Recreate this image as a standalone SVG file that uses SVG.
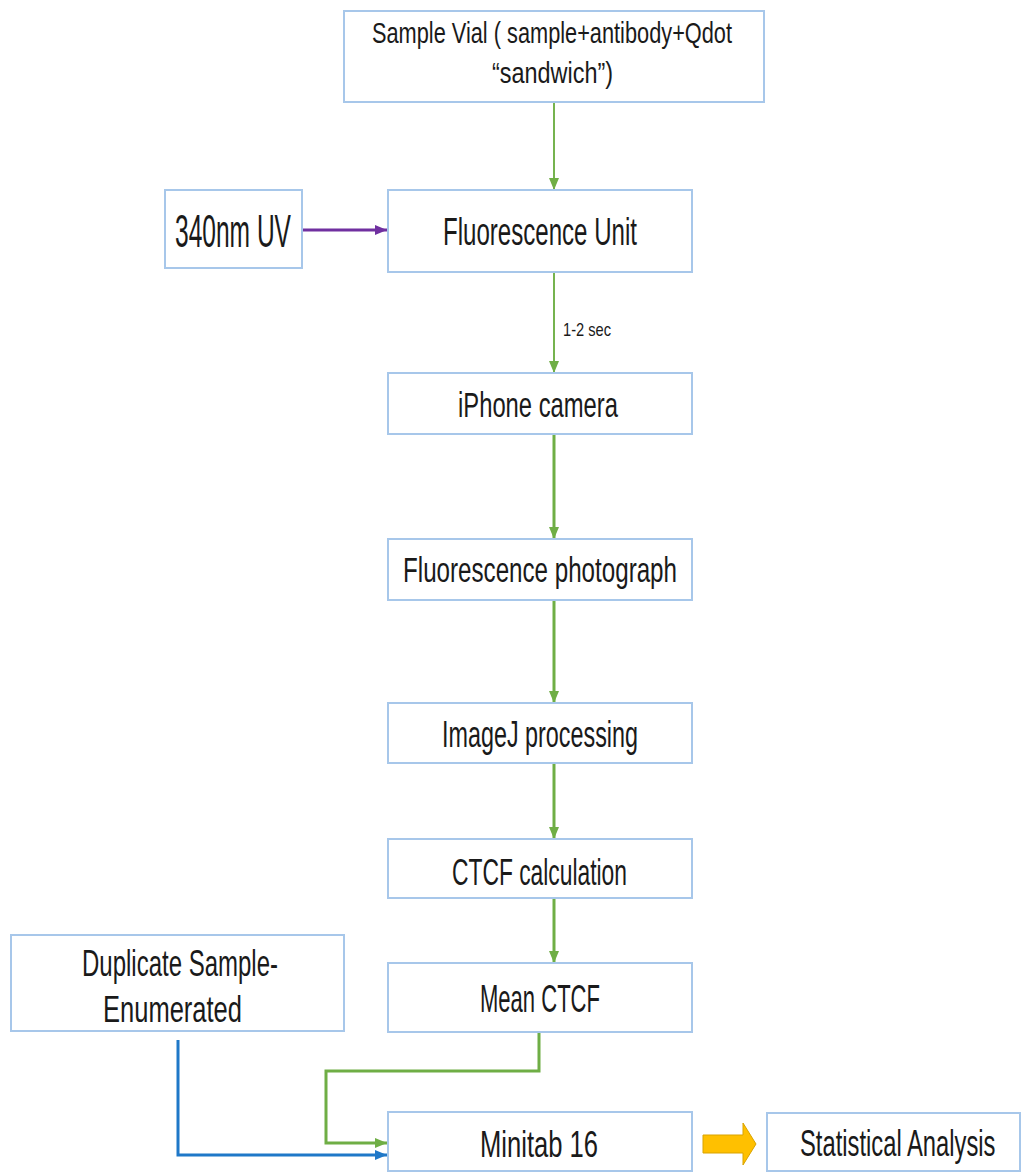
<svg xmlns="http://www.w3.org/2000/svg" width="1021" height="1172" viewBox="0 0 1021 1172">
<style>
.box{fill:#ffffff;stroke:#a7c7ea;stroke-width:2}
.t{font-family:"Liberation Sans",Arial,sans-serif;fill:#1a1a1a}
.g{fill:none;stroke:#6fae45;stroke-width:3}
.g2{fill:none;stroke:#76b34f;stroke-width:2}
</style>
<defs>
<marker id="ag" markerUnits="userSpaceOnUse" markerWidth="13" markerHeight="10" refX="12" refY="5" orient="auto">
<path d="M0,0 L12,5 L0,10 z" fill="#6fae45"/>
</marker>
<marker id="ap" markerUnits="userSpaceOnUse" markerWidth="13" markerHeight="10" refX="12" refY="5" orient="auto">
<path d="M0,0 L12,5 L0,10 z" fill="#7030a0"/>
</marker>
<marker id="ab" markerUnits="userSpaceOnUse" markerWidth="13" markerHeight="10" refX="12" refY="5" orient="auto">
<path d="M0,0 L12,5 L0,10 z" fill="#1f78c8"/>
</marker>
</defs>
<rect width="1021" height="1172" fill="#ffffff"/>
<g id="connectors">
<line class="g2" x1="554" y1="102" x2="554" y2="190" marker-end="url(#ag)"/>
<line class="g2" x1="554" y1="272" x2="554" y2="373" marker-end="url(#ag)"/>
<line class="g" x1="554" y1="434" x2="554" y2="539" marker-end="url(#ag)"/>
<line class="g" x1="554" y1="600" x2="554" y2="703" marker-end="url(#ag)"/>
<line class="g" x1="554" y1="763" x2="554" y2="839" marker-end="url(#ag)"/>
<line class="g" x1="554" y1="898" x2="554" y2="963" marker-end="url(#ag)"/>
<path class="g" d="M539,1032 V1071 H326 V1143 H387" marker-end="url(#ag)"/>
<path d="M178,1040 V1155 H387" fill="none" stroke="#1f78c8" stroke-width="3" marker-end="url(#ab)"/>
<line x1="302" y1="230" x2="387" y2="230" stroke="#7030a0" stroke-width="3" marker-end="url(#ap)"/>
<polygon points="703,1135 743,1135 743,1123 756,1144 743,1165 743,1153 703,1153" fill="#ffc000" stroke="#d9a300" stroke-width="1"/>
<text class="t" x="563" y="336" font-size="19" textLength="48" lengthAdjust="spacingAndGlyphs">1-2 sec</text>
</g>
<g id="sample-vial">
<rect class="box" x="344" y="11" width="420" height="91"/>
<text class="t" x="372" y="43" font-size="29" textLength="360" lengthAdjust="spacingAndGlyphs">Sample Vial ( sample+antibody+Qdot</text>
<text class="t" x="492" y="83" font-size="29" textLength="121" lengthAdjust="spacingAndGlyphs">“sandwich”)</text>
</g>
<g id="uv">
<rect class="box" x="165" y="190" width="137" height="78"/>
<text class="t" x="175" y="247" font-size="47" textLength="116" lengthAdjust="spacingAndGlyphs">340nm UV</text>
</g>
<g id="fluorescence-unit">
<rect class="box" x="388" y="190" width="304" height="82"/>
<text class="t" x="443" y="245" font-size="39" textLength="194" lengthAdjust="spacingAndGlyphs">Fluorescence Unit</text>
</g>
<g id="iphone-camera">
<rect class="box" x="388" y="373" width="304" height="61"/>
<text class="t" x="458" y="417" font-size="35" textLength="160" lengthAdjust="spacingAndGlyphs">iPhone camera</text>
</g>
<g id="fluorescence-photograph">
<rect class="box" x="388" y="539" width="304" height="61"/>
<text class="t" x="403" y="582" font-size="35" textLength="274" lengthAdjust="spacingAndGlyphs">Fluorescence photograph</text>
</g>
<g id="imagej">
<rect class="box" x="388" y="703" width="304" height="60"/>
<text class="t" x="442" y="747" font-size="37" textLength="196" lengthAdjust="spacingAndGlyphs">ImageJ processing</text>
</g>
<g id="ctcf-calculation">
<rect class="box" x="388" y="839" width="304" height="59"/>
<text class="t" x="452" y="885" font-size="37" textLength="175" lengthAdjust="spacingAndGlyphs">CTCF calculation</text>
</g>
<g id="mean-ctcf">
<rect class="box" x="388" y="963" width="304" height="69"/>
<text class="t" x="480" y="1012" font-size="39" textLength="120" lengthAdjust="spacingAndGlyphs">Mean CTCF</text>
</g>
<g id="duplicate-sample">
<rect class="box" x="11" y="935" width="333" height="96"/>
<text class="t" x="82" y="976" font-size="36" textLength="196" lengthAdjust="spacingAndGlyphs">Duplicate Sample-</text>
<text class="t" x="103" y="1022" font-size="36" textLength="139" lengthAdjust="spacingAndGlyphs">Enumerated</text>
</g>
<g id="minitab">
<rect class="box" x="388" y="1112" width="304" height="59"/>
<text class="t" x="480" y="1157" font-size="37" textLength="118" lengthAdjust="spacingAndGlyphs">Minitab 16</text>
</g>
<g id="statistical-analysis">
<rect class="box" x="767" y="1113" width="253" height="58"/>
<text class="t" transform="translate(800,1156) scale(0.66,1)" font-size="36">Statistical Analysis</text>
</g>
</svg>
